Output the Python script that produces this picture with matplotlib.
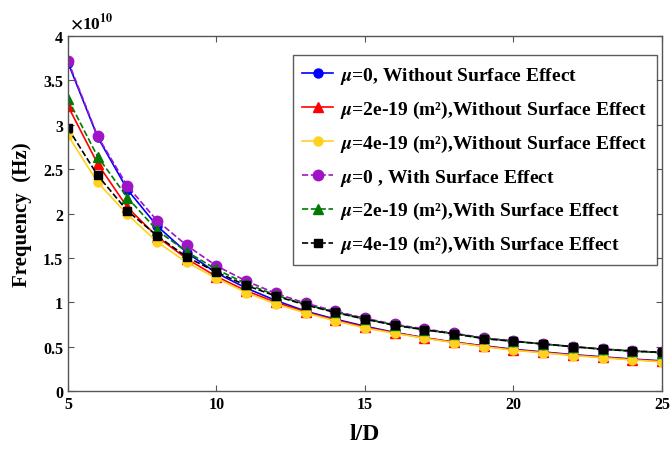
import numpy as np
import matplotlib
matplotlib.use('Agg')
import matplotlib.pyplot as plt
from matplotlib.ticker import FuncFormatter, MultipleLocator

plt.rcParams['font.family'] = ['Liberation Serif', 'DejaVu Serif']
plt.rcParams['font.weight'] = 'bold'
plt.rcParams['mathtext.fontset'] = 'stix'

# l/D 取值
ld = np.arange(5, 26)

# 频率 (x1e10 Hz)
f_mu0_wo = [3.70, 2.86, 2.27, 1.86, 1.56, 1.33, 1.16, 1.02, 0.90, 0.81, 0.73,
            0.66, 0.60, 0.55, 0.51, 0.47, 0.44, 0.41, 0.385, 0.36, 0.34]
f_mu2_wo = [3.21, 2.56, 2.07, 1.74, 1.49, 1.29, 1.13, 1.00, 0.89, 0.80, 0.72,
            0.655, 0.60, 0.55, 0.505, 0.465, 0.435, 0.405, 0.38, 0.355, 0.335]
f_mu4_wo = [2.88, 2.35, 1.99, 1.68, 1.45, 1.27, 1.11, 0.98, 0.88, 0.79, 0.71,
            0.65, 0.595, 0.545, 0.50, 0.46, 0.43, 0.40, 0.375, 0.35, 0.33]
f_mu0_w = [3.72, 2.87, 2.31, 1.92, 1.64, 1.41, 1.24, 1.10, 0.99, 0.90, 0.82,
           0.75, 0.70, 0.65, 0.60, 0.565, 0.53, 0.50, 0.475, 0.455, 0.435]
f_mu2_w = [3.29, 2.64, 2.18, 1.81, 1.57, 1.37, 1.21, 1.08, 0.975, 0.89, 0.81,
           0.745, 0.69, 0.645, 0.595, 0.56, 0.53, 0.50, 0.47, 0.45, 0.43]
f_mu4_w = [2.96, 2.43, 2.03, 1.75, 1.51, 1.34, 1.19, 1.07, 0.97, 0.885, 0.81,
           0.74, 0.69, 0.645, 0.59, 0.56, 0.53, 0.50, 0.47, 0.45, 0.435]

labels = [r'$\mu$=0, Without Surface Effect',
          r'$\mu$=2e-19 (m²),Without Surface Effect',
          r'$\mu$=4e-19 (m²),Without Surface Effect',
          r'$\mu$=0 , With Surface Effect',
          r'$\mu$=2e-19 (m²),With Surface Effect',
          r'$\mu$=4e-19 (m²),With Surface Effect']

fig = plt.figure(figsize=(6.7, 4.52), dpi=100)
ax = fig.add_axes([0.1015, 0.1327, 0.8865, 0.7853])

ax.plot(ld, f_mu0_wo, '-o', color='#0000FF', ms=6.5, lw=1.2, label=labels[0])
ax.plot(ld, f_mu2_wo, '-^', color='#FF0000', ms=6.5, lw=1.2, label=labels[1])
ax.plot(ld, f_mu4_wo, '-o', color='#FFD21E', ms=6.5, lw=1.2, label=labels[2])
ax.plot(ld, f_mu0_w, '--o', color='#A014C8', ms=7.5, lw=1.2, label=labels[3])
ax.plot(ld, f_mu2_w, '--^', color='#007A00', ms=6.5, lw=1.2, label=labels[4])
ax.plot(ld, f_mu4_w, '--s', color='#000000', ms=5.5, lw=1.2, label=labels[5])

ax.set_xlim(5, 25)
ax.set_ylim(0, 4)
ax.xaxis.set_major_locator(MultipleLocator(5))
ax.yaxis.set_major_locator(MultipleLocator(0.5))
ax.yaxis.set_major_formatter(FuncFormatter(lambda v, p: '%g' % v))
ax.tick_params(direction='in', top=True, right=True, labelsize=11.5,
               color='#555555', length=4)
for s in ax.spines.values():
    s.set_color('#555555')
    s.set_linewidth(1.0)

ax.text(0.003, 1.01, r'$\times$10$^{10}$', transform=ax.transAxes,
        fontsize=12.5, ha='left', va='bottom')

ax.set_xlabel('l/D', fontsize=17, fontweight='bold', labelpad=8)
ax.set_ylabel('Frequency  (Hz)', fontsize=15, fontweight='bold', labelpad=8)

leg = ax.legend(loc='upper right', bbox_to_anchor=(0.9916, 0.9465),
                borderaxespad=0, fontsize=14, frameon=True, fancybox=False,
                edgecolor='#333333', handlelength=1.55, labelspacing=0.66,
                borderpad=0.5, handletextpad=0.4)
leg.get_frame().set_linewidth(1.0)

fig.savefig('out.png', dpi=100)
